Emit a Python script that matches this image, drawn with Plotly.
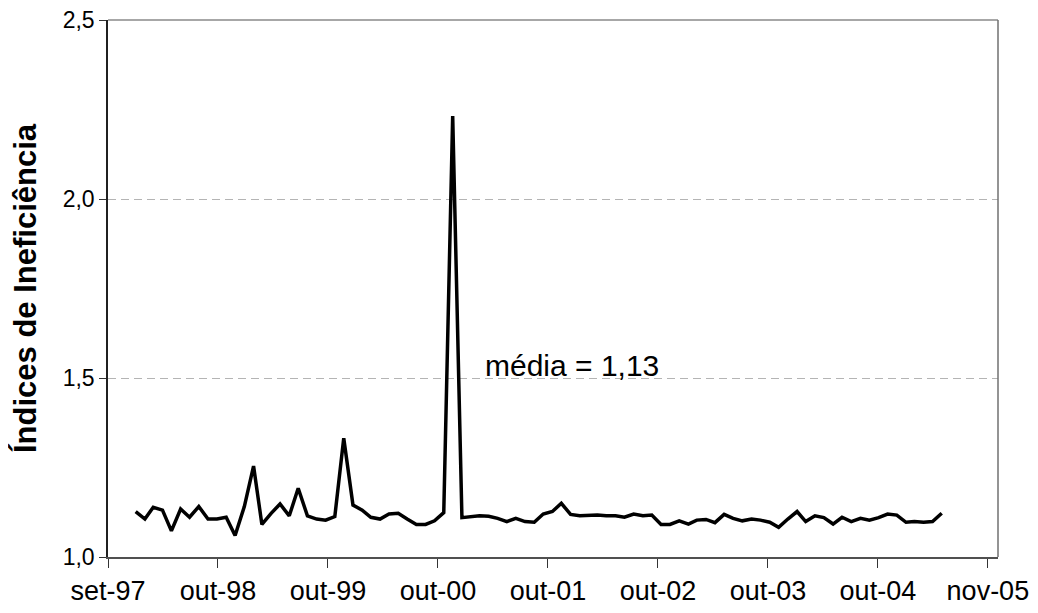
import pandas as pd
import plotly.graph_objects as go

# Monthly inefficiency index, Jan-1998 .. Jun-2005
months = pd.date_range("1998-01-01", periods=90, freq="MS")
values = [
    1.127, 1.106, 1.139, 1.131, 1.073, 1.134, 1.111, 1.141, 1.106, 1.106,
    1.111, 1.060, 1.141, 1.254, 1.091, 1.122, 1.148, 1.115, 1.192, 1.115,
    1.106, 1.103, 1.113, 1.332, 1.145, 1.131, 1.111, 1.106, 1.120, 1.122,
    1.106, 1.091, 1.091, 1.101, 1.124, 2.232, 1.110, 1.113, 1.115, 1.114,
    1.108, 1.099, 1.108, 1.099, 1.097, 1.120, 1.127, 1.150, 1.119, 1.115,
    1.117, 1.117, 1.115, 1.115, 1.111, 1.120, 1.115, 1.117, 1.091, 1.091,
    1.101, 1.092, 1.103, 1.105, 1.096, 1.119, 1.108, 1.101, 1.106, 1.103,
    1.097, 1.083, 1.106, 1.127, 1.099, 1.115, 1.110, 1.092, 1.111, 1.099,
    1.108, 1.103, 1.110, 1.120, 1.117, 1.097, 1.099, 1.097, 1.099, 1.122,
]

tick_labels = ["set-97", "out-98", "out-99", "out-00", "out-01",
               "out-02", "out-03", "out-04", "nov-05"]
axis_start = pd.Timestamp("1997-09-30")
tick_step_days = 369.5
tick_dates = [axis_start + pd.Timedelta(days=tick_step_days * i) for i in range(len(tick_labels))]
axis_end = axis_start + pd.Timedelta(days=2990)

y_title = "Índices de Ineficiência"
mean_label = "média = 1,13"

FONT = "Liberation Sans, Arial, sans-serif"

fig = go.Figure()
fig.add_trace(go.Scatter(
    x=months, y=values, mode="lines",
    line=dict(color="black", width=3.5),
    showlegend=False, hoverinfo="x+y",
))

fig.add_annotation(
    x=pd.Timestamp("2001-03-12"), y=1.534, xref="x", yref="y",
    text=mean_label, showarrow=False, xanchor="left", yanchor="middle",
    font=dict(family=FONT, size=30, color="black"),
)

# plot-area frame (top / right border)
fig.add_shape(type="line", xref="paper", yref="paper", x0=0, y0=1, x1=1, y1=1,
              line=dict(color="#8a8a8a", width=1.5), layer="above")
fig.add_shape(type="line", xref="paper", yref="paper", x0=1, y0=0, x1=1, y1=1,
              line=dict(color="#707070", width=1.5), layer="above")

fig.update_layout(
    width=1038, height=613,
    margin=dict(l=100, r=48, t=12, b=64, autoexpand=False),
    paper_bgcolor="white", plot_bgcolor="white",
    separators=",.",
    font=dict(family=FONT, color="black"),
    xaxis=dict(
        type="date", range=[axis_start, axis_end], automargin=False,
        tickmode="array", tickvals=tick_dates, ticktext=tick_labels,
        ticks="outside", ticklen=9, tickcolor="#333", tickwidth=1,
        ticklabeloverflow="allow",
        showline=True, linecolor="#505050", linewidth=2,
        showgrid=False, zeroline=False,
        tickfont=dict(family=FONT, size=27, color="black"),
    ),
    yaxis=dict(
        range=[1.0, 2.5], dtick=0.5, tick0=1.0, tickformat=".1f", automargin=False,
        ticks="outside", ticklen=7, tickcolor="#333", tickwidth=1,
        ticklabeloverflow="allow",
        showline=True, linecolor="#202020", linewidth=1.5,
        showgrid=True, gridcolor="#b4b4b4", gridwidth=1, griddash="8px,5px",
        zeroline=False,
        tickfont=dict(family=FONT, size=23, color="black"),
        title=dict(text="<b>" + y_title + "</b>", standoff=18,
                   font=dict(family=FONT, size=31, color="black")),
    ),
)

fig.write_html("out.html")
